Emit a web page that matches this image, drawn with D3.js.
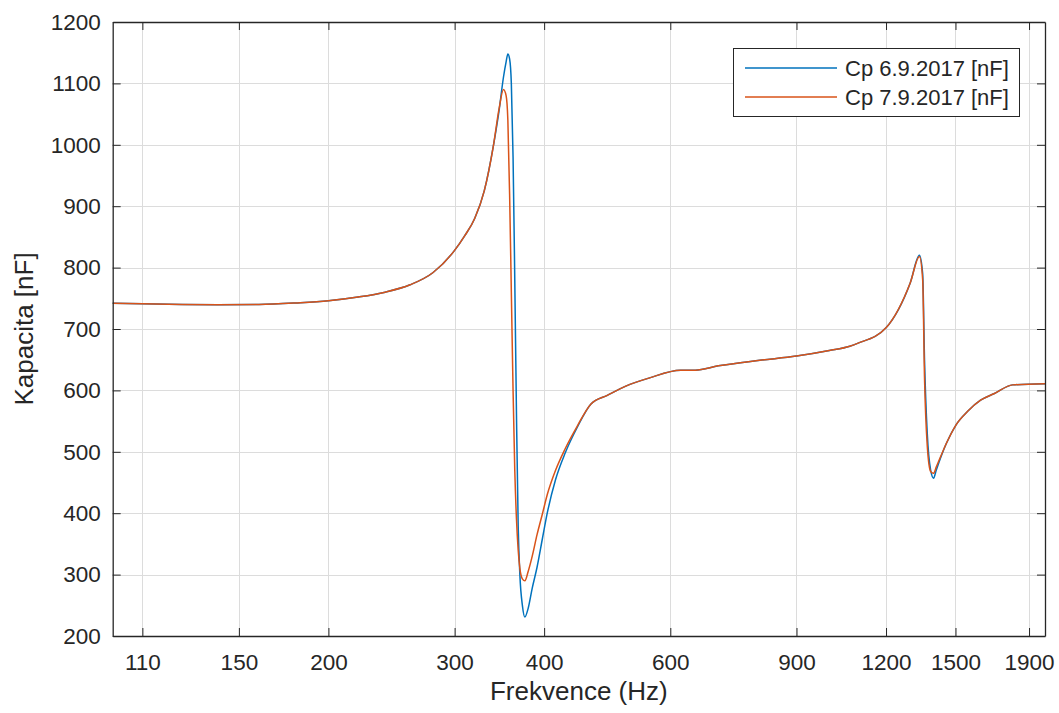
<!DOCTYPE html>
<html>
<head>
<meta charset="utf-8">
<script src="https://cdn.jsdelivr.net/npm/d3@7"></script>
<style>
  html, body { margin: 0; padding: 0; background: #ffffff; }
  svg { display: block; }
  text { font-family: "Liberation Sans", Arial, Helvetica, sans-serif; fill: #262626; }
</style>
</head>
<body>
<svg id="chart" width="1059" height="713"></svg>
<script>
// Measurement frequencies (Hz)
const frequency = [100, 110, 125, 140, 160, 180, 200, 220, 240, 260, 280, 300, 310, 320, 330, 340, 346, 351, 354, 356, 358, 360, 362, 364, 366, 368, 370, 373, 376, 380, 385, 391, 398, 404, 415, 428, 445, 465, 490, 520, 560, 620, 650, 700, 800, 900, 1000, 1068, 1097, 1200, 1297, 1336, 1350, 1358, 1370, 1385, 1398, 1410, 1457, 1503, 1560, 1626, 1700, 1802, 2000];

// Capacitance Cp measured on 6.9.2017 (nF)
const cp0609 = [742, 741, 740, 739.5, 740, 742.5, 746, 752, 760, 772, 792, 828, 852, 880, 925, 1000, 1055, 1110, 1135, 1148, 1140, 1100, 980, 780, 560, 380, 300, 250, 231, 245, 278, 312, 360, 400, 455, 498, 540, 578, 592, 607, 620, 633, 633, 640, 649, 656, 665, 672, 677, 702, 775, 820, 790, 650, 530, 470, 457, 470, 514, 544, 566, 584, 595, 609, 611];

// Capacitance Cp measured on 7.9.2017 (nF)
const cp0709 = [742, 741, 740, 739.5, 740, 742.5, 746, 752, 760, 772, 792, 828, 852, 880, 925, 1000, 1058, 1090, 1080, 1040, 920, 760, 600, 470, 390, 340, 310, 293, 290, 305, 330, 365, 400, 430, 470, 505, 542, 578, 592, 607, 620, 633, 633, 640, 649, 656, 665, 672, 677, 702, 775, 818, 780, 620, 510, 468, 465, 475, 514, 544, 566, 584, 595, 609, 611];

const seriesNames = ["Cp 6.9.2017 [nF]", "Cp 7.9.2017 [nF]"];
const seriesColors = ["#0072BD", "#D95319"];

const xTicks = [110, 150, 200, 300, 400, 600, 900, 1200, 1500, 1900];
const yTicks = [200, 300, 400, 500, 600, 700, 800, 900, 1000, 1100, 1200];

const xTitle = "Frekvence (Hz)";
const yTitle = "Kapacita [nF]";

// Plot box
const boxL = 112.7, boxR = 1045, boxT = 22, boxB = 636;

const svg = d3.select("#chart");

const x = d3.scaleLog().domain([100, 2000]).range([boxL, boxR]);
const y = d3.scaleLinear().domain([200, 1200]).range([boxB, boxT]);

// Axes background
svg.append("rect")
  .attr("x", boxL).attr("y", boxT)
  .attr("width", boxR - boxL).attr("height", boxB - boxT)
  .attr("fill", "#ffffff");

// Grid
const grid = svg.append("g").attr("stroke", "#dcdcdc").attr("stroke-width", 1);
grid.selectAll("line.vx").data(xTicks).join("line")
  .attr("x1", d => Math.round(x(d)) + 0.5).attr("x2", d => Math.round(x(d)) + 0.5)
  .attr("y1", boxT).attr("y2", boxB);
grid.selectAll("line.hy").data(yTicks).join("line")
  .attr("y1", d => Math.round(y(d)) + 0.5).attr("y2", d => Math.round(y(d)) + 0.5)
  .attr("x1", boxL).attr("x2", boxR);

// Series lines
const rows = frequency.map((f, i) => ({ f, a: cp0609[i], b: cp0709[i] }));
const lineA = d3.line().x(d => x(d.f)).y(d => y(d.a)).curve(d3.curveMonotoneX);
const lineB = d3.line().x(d => x(d.f)).y(d => y(d.b)).curve(d3.curveMonotoneX);

const plot = svg.append("g");
plot.append("path").datum(rows).attr("d", lineA)
  .attr("fill", "none").attr("stroke", seriesColors[0]).attr("stroke-width", 1.5)
  .attr("stroke-linejoin", "round");
plot.append("path").datum(rows).attr("d", lineB)
  .attr("fill", "none").attr("stroke", seriesColors[1]).attr("stroke-width", 1.5)
  .attr("stroke-linejoin", "round");

// Axes with inward ticks on all four sides
const tickLen = 8;
const axisColor = "#262626";
const fmt = d3.format("d");

const xb = svg.append("g").attr("transform", `translate(0,${boxB})`)
  .call(d3.axisBottom(x).tickValues(xTicks).tickFormat(fmt).tickSizeInner(-tickLen).tickSizeOuter(0).tickPadding(18));
const xt = svg.append("g").attr("transform", `translate(0,${boxT})`)
  .call(d3.axisTop(x).tickValues(xTicks).tickFormat("").tickSizeInner(-tickLen).tickSizeOuter(0));
const yl = svg.append("g").attr("transform", `translate(${boxL},0)`)
  .call(d3.axisLeft(y).tickValues(yTicks).tickFormat(fmt).tickSizeInner(-tickLen).tickSizeOuter(0).tickPadding(12));
const yr = svg.append("g").attr("transform", `translate(${boxR},0)`)
  .call(d3.axisRight(y).tickValues(yTicks).tickFormat("").tickSizeInner(-tickLen).tickSizeOuter(0));

[xb, xt, yl, yr].forEach(g => {
  g.selectAll(".domain").attr("stroke", axisColor).attr("stroke-width", 1.3);
  g.selectAll(".tick line").attr("stroke", axisColor).attr("stroke-width", 1);
  g.selectAll(".tick text").attr("fill", axisColor)
    .style("font-size", "22.5px")
    .style("font-family", "'Liberation Sans', Arial, sans-serif");
});

// Axis titles
svg.append("text")
  .attr("x", (boxL + boxR) / 2).attr("y", 700)
  .attr("text-anchor", "middle")
  .style("font-size", "26px")
  .text(xTitle);

svg.append("text")
  .attr("transform", `translate(33,${(boxT + boxB) / 2}) rotate(-90)`)
  .attr("text-anchor", "middle")
  .style("font-size", "26px")
  .text(yTitle);

// Legend
const lg = svg.append("g");
const lgX = 733, lgY = 48, lgW = 286, lgH = 68;
lg.append("rect").attr("x", lgX + 0.5).attr("y", lgY + 0.5).attr("width", lgW).attr("height", lgH)
  .attr("fill", "#ffffff").attr("stroke", axisColor).attr("stroke-width", 1);
seriesNames.forEach((name, i) => {
  const cy = lgY + 20 + i * 29;
  lg.append("line").attr("x1", lgX + 12).attr("x2", lgX + 104)
    .attr("y1", cy).attr("y2", cy)
    .attr("stroke", seriesColors[i]).attr("stroke-width", 1.5);
  lg.append("text").attr("x", lgX + 112).attr("y", cy).attr("dy", "0.35em")
    .style("font-size", "22px")
    .text(name);
});
</script>
</body>
</html>
